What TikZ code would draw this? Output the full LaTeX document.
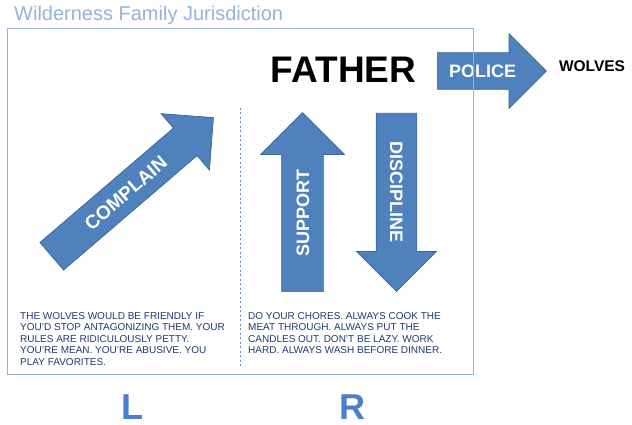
\documentclass[tikz,border=0pt]{standalone}
\usepackage{fontspec}
\setmainfont{Liberation Sans}
\usetikzlibrary{positioning,shapes.arrows}
\definecolor{arrowblue}{HTML}{4F81BD}
\definecolor{arrowedge}{HTML}{3A6496}
\definecolor{framecol}{HTML}{95B3D7}
\definecolor{notecol}{HTML}{1F3A6E}
\definecolor{lettercol}{HTML}{4A7FCF}
\definecolor{divcol}{HTML}{6C8EBF}

\begin{document}
\begin{tikzpicture}[
        x=1pt, y=1pt,
        bigarrow/.style={single arrow, draw=arrowedge, fill=arrowblue, line width=0.7pt, single arrow head indent=0pt, text=white, font=\bfseries\fontsize{18}{18}\selectfont, text height=13pt, text depth=0pt, inner xsep=2pt, anchor=tail},
        note/.style={align=left, anchor=north west, inner sep=0pt, text=notecol, font=\fontsize{10}{11.6}\selectfont},
        side/.style={inner sep=0pt, text=lettercol, font=\bfseries\fontsize{36}{36}\selectfont, anchor=base},
        line/.style={draw=framecol, line width=0.8pt},
        divider/.style={draw=divcol, line width=0.6pt, dash pattern=on 2pt off 2.5pt}
    ]
        \useasboundingbox (0,0) rectangle (632,425);
        \node [anchor=base west, inner sep=0pt, text=framecol, font=\fontsize{20}{20}\selectfont] (title) at (14,404) {Wilderness Family Jurisdiction};

        % the four arrows
        \node [bigarrow, rotate=40.6, minimum height=213pt, single arrow head extend=19pt, inner ysep=11pt, font=\bfseries\fontsize{19}{19}\selectfont, text height=13.6pt] (complain) at (51.5,168.5) {COMPLAIN};
        \node [bigarrow, rotate=90, minimum height=179pt, single arrow head extend=21pt, inner ysep=14pt] (support) at (302.5,133) {SUPPORT};
        \node [bigarrow, rotate=-90, minimum height=178pt, single arrow head extend=19.5pt, inner ysep=13.5pt] (discipline) at (396.5,312) {DISCIPLINE};
        \node [bigarrow, minimum height=109pt, single arrow head extend=19pt, inner ysep=11.5pt] (police) at (437,354) {POLICE};

        \node [anchor=base, inner sep=0pt, font=\bfseries\fontsize{37}{37}\selectfont] (father) at (343.5,342) {FATHER};
        \node [right=12pt of police.tip, yshift=5pt, inner sep=0pt, font=\bfseries\fontsize{15.5}{15.5}\selectfont] (wolves) {WOLVES};

        % frame and divider
        \coordinate (divtop) at (240,317);
        \coordinate (divbot) at (240,58);
        \path [divider] (divtop) -- (divbot);
        \path [line] (7,51) rectangle (473,397);

        \node [note] (leftnote) at (20,113) {THE WOLVES WOULD BE FRIENDLY IF\\YOU'D STOP ANTAGONIZING THEM. YOUR\\RULES ARE RIDICULOUSLY PETTY.\\YOU'RE MEAN. YOU'RE ABUSIVE. YOU\\PLAY FAVORITES.};
        \node [note] (rightnote) at (248,113) {DO YOUR CHORES. ALWAYS COOK THE\\MEAT THROUGH. ALWAYS PUT THE\\CANDLES OUT. DON'T BE LAZY. WORK\\HARD. ALWAYS WASH BEFORE DINNER.};

        \node [side] (left) at (132,5) {L};
        \node [side] (right) at (352,5) {R};
    \end{tikzpicture}
\end{document}
